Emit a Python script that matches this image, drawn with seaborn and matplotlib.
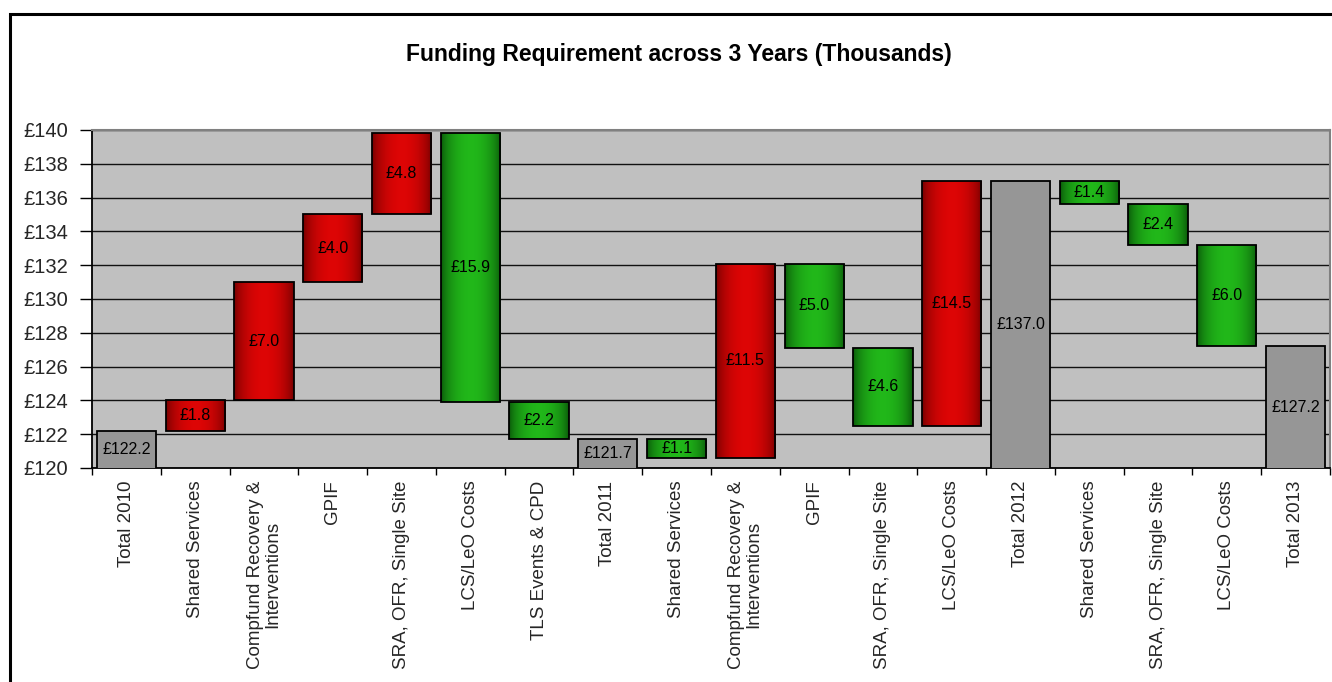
import numpy as np
import pandas as pd
import matplotlib
matplotlib.use("Agg")
import matplotlib.pyplot as plt
import seaborn as sns
from matplotlib.patches import Rectangle
from matplotlib.ticker import FuncFormatter, FixedLocator

# ---------------- data ----------------
categories = [
    "Total 2010", "Shared Services", "Compfund Recovery &\nInterventions", "GPIF",
    "SRA, OFR, Single Site", "LCS/LeO Costs", "TLS Events & CPD", "Total 2011",
    "Shared Services", "Compfund Recovery &\nInterventions", "GPIF",
    "SRA, OFR, Single Site", "LCS/LeO Costs", "Total 2012", "Shared Services",
    "SRA, OFR, Single Site", "LCS/LeO Costs", "Total 2013",
]
values = [122.2, 1.8, 7.0, 4.0, 4.8, -15.9, -2.2, 121.7,
          -1.1, 11.5, -5.0, -4.6, 14.5, 137.0,
          -1.4, -2.4, -6.0, 127.2]
is_total = [True, False, False, False, False, False, False, True,
            False, False, False, False, False, True,
            False, False, False, True]
y_ticks = [120, 122, 124, 126, 128, 130, 132, 134, 136, 138, 140]
title = "Funding Requirement across 3 Years (Thousands)"

# ---------------- waterfall geometry ----------------
bottoms, tops, kinds = [], [], []
running = 0.0
for v, tot in zip(values, is_total):
    if tot:
        bottoms.append(0.0); tops.append(v); kinds.append("total")
        running = v
    else:
        start, end = running, running + v
        bottoms.append(min(start, end)); tops.append(max(start, end))
        kinds.append("up" if v > 0 else "down")
        running = end
bottoms = np.array(bottoms); tops = np.array(tops)
df = pd.DataFrame({"pos": np.arange(len(values)), "height": tops - bottoms})

# ---------------- style ----------------
sns.set_theme(style="white")
plt.rcParams["font.family"] = ["Liberation Sans", "DejaVu Sans"]

W, H = 1332, 682
fig = plt.figure(figsize=(W / 100, H / 100), dpi=100)
fig.patch.set_facecolor("white")
L, R, T, B = 92, 1330, 130, 468
ax = fig.add_axes([L / W, 1 - B / H, (R - L) / W, (B - T) / H])
ax.set_facecolor("#C0C0C0")

sns.barplot(data=df, x="pos", y="height", bottom=bottoms, width=0.86,
            color="#969696", saturation=1, edgecolor="black", linewidth=1.3,
            errorbar=None, ax=ax)

ymin, ymax = y_ticks[0], y_ticks[-1]
ax.set_ylim(ymin, ymax)
ax.set_xlim(-0.5, len(values) - 0.5)

# gradient fills for change bars
grad_n = 256
t = np.linspace(0, 1, grad_n)
prof = np.sin(np.pi * t) ** 0.55
colours = {
    "up": (np.array([0.40, 0.0, 0.0]), np.array([0.87, 0.02, 0.02])),
    "down": (np.array([0.03, 0.30, 0.03]), np.array([0.13, 0.72, 0.10])),
}
for patch, kind in zip(ax.patches, kinds):
    patch.set_zorder(3)
    if kind == "total":
        continue
    dark, bright = colours[kind]
    img = dark[None, :] + (bright - dark)[None, :] * prof[:, None]
    img = img[None, :, :]
    x0 = patch.get_x(); w = patch.get_width()
    y0 = patch.get_y(); h = patch.get_height()
    im = ax.imshow(img, extent=(x0, x0 + w, y0, y0 + h), aspect="auto",
                   zorder=2, interpolation="bilinear")
    im.set_clip_path(patch)
    patch.set_facecolor("none")

# data labels
for i, (b, tp, v) in enumerate(zip(bottoms, tops, values)):
    yc = (max(b, ymin) + tp) / 2
    ax.text(i, yc, f"£{abs(v):.1f}", ha="center", va="center",
            fontsize=11.5, color="black", zorder=5)

# axes / grid
ax.set_axisbelow(True)
ax.yaxis.set_major_locator(FixedLocator(y_ticks))
ax.yaxis.grid(True, color="#111111", linewidth=1.0)
ax.xaxis.grid(False)
ax.yaxis.set_major_formatter(FuncFormatter(lambda v, p: f"£{v:.0f}"))
ax.tick_params(axis="y", which="major", length=9, width=1, color="black",
               direction="out", labelsize=14.5, pad=8, left=True)

ax.set_xticks(np.arange(len(values)))
ax.set_xticklabels(categories, rotation=90, fontsize=13.5, ha="center",
                   va="top", multialignment="center", linespacing=1.0)
ax.tick_params(axis="x", which="major", length=0, pad=9)
ax.set_xticks(np.arange(-0.5, len(values), 1.0), minor=True)
ax.tick_params(axis="x", which="minor", length=5, width=1, color="black",
               direction="out", bottom=True)
ax.set_xlabel(""); ax.set_ylabel("")

for s in ("left", "bottom"):
    ax.spines[s].set_color("black"); ax.spines[s].set_linewidth(1.3)
for s in ("top", "right"):
    ax.spines[s].set_color("#808080"); ax.spines[s].set_linewidth(1.5)
    ax.spines[s].set_visible(True)

# title
fig.text(679 / W, 1 - 55 / H, title, ha="center", va="center",
         fontsize=16.5, fontweight="bold", color="black")

# outer chart border
fig.patches.append(Rectangle((9.5 / W, -0.1), 1.5, 1 - 13.5 / H + 0.1,
                             transform=fig.transFigure, fill=False,
                             edgecolor="black", linewidth=2.2, zorder=10))

fig.savefig("out.png", dpi=100)
